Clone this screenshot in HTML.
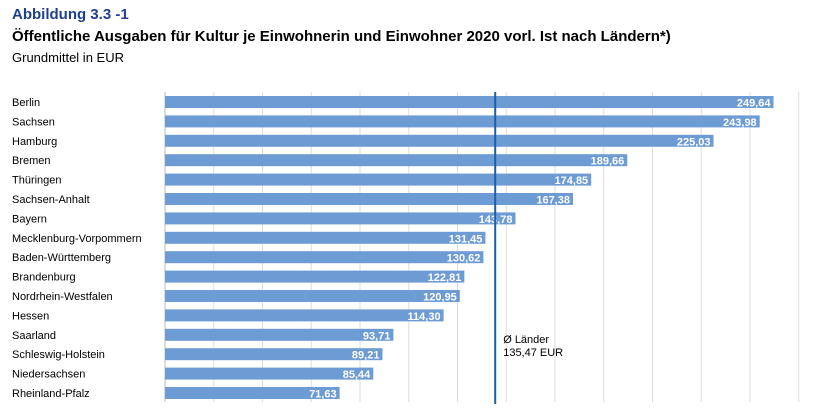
<!DOCTYPE html>
<html><head><meta charset="utf-8"><style>
body{margin:0;background:#fff;font-family:"Liberation Sans",sans-serif;}
#c{position:relative;width:817px;height:418px;overflow:hidden;}
.t{position:absolute;white-space:nowrap;}
</style></head><body>
<div id="c">
<div class="t" style="left:12px;top:6px;font-size:15px;font-weight:bold;color:#1f3f8f">Abbildung 3.3 -1</div>
<div class="t" style="left:12px;top:28px;font-size:15px;font-weight:bold;color:#000">Öffentliche Ausgaben für Kultur je Einwohnerin und Einwohner 2020 vorl. Ist nach Ländern*)</div>
<div class="t" style="left:12px;top:50px;font-size:13px;color:#000">Grundmittel in EUR</div>
<svg id="s" width="817" height="418" style="position:absolute;left:0;top:0"></svg>
</div>
<script>
const categories=["Berlin","Sachsen","Hamburg","Bremen","Thüringen","Sachsen-Anhalt","Bayern","Mecklenburg-Vorpommern","Baden-Württemberg","Brandenburg","Nordrhein-Westfalen","Hessen","Saarland","Schleswig-Holstein","Niedersachsen","Rheinland-Pfalz"];
const values=[249.64,243.98,225.03,189.66,174.85,167.38,143.78,131.45,130.62,122.81,120.95,114.30,93.71,89.21,85.44,71.63];
const average=135.47;
const gridTicks=[0,20,40,60,80,100,120,140,160,180,200,220,240,260];
const NS="http://www.w3.org/2000/svg";
const svg=document.getElementById('s');
const x=v=>165+v*2.4375;
const y=i=>102+i*19.4;
function el(t,a){const e=document.createElementNS(NS,t);for(const k in a)e.setAttribute(k,a[k]);svg.appendChild(e);return e;}
gridTicks.forEach(g=>{
  const l=el('line',{x1:x(g),x2:x(g),y1:92,y2:402,stroke:g===0?'#bbb':'#ddd','stroke-width':1});
  
  
});
categories.forEach((c,i)=>{
  const t=el('text',{x:12,y:y(i)+4,'font-size':11,fill:'#000'});
  t.textContent=c;
  
  
  const r=el('rect',{x:x(0),y:y(i)-6,width:x(values[i])-x(0),height:12,fill:'#6d9bd3'});
  
  
  const v=el('text',{x:x(values[i])-3,y:y(i)+4.5,'font-size':11,'font-weight':'bold',fill:'#fff','text-anchor':'end'});
  v.textContent=values[i].toFixed(2).replace('.',',');
  
  
});
const a=el('line',{x1:x(average),x2:x(average),y1:92,y2:404,stroke:'#1a5fa8','stroke-width':2});


const a1=el('text',{x:x(average)+8,y:343,'font-size':11,fill:'#000'});
a1.textContent='Ø Länder';


const a2=el('text',{x:x(average)+8,y:356,'font-size':11,fill:'#000'});
a2.textContent=average.toFixed(2).replace('.',',')+' EUR';


</script>
</body></html>
